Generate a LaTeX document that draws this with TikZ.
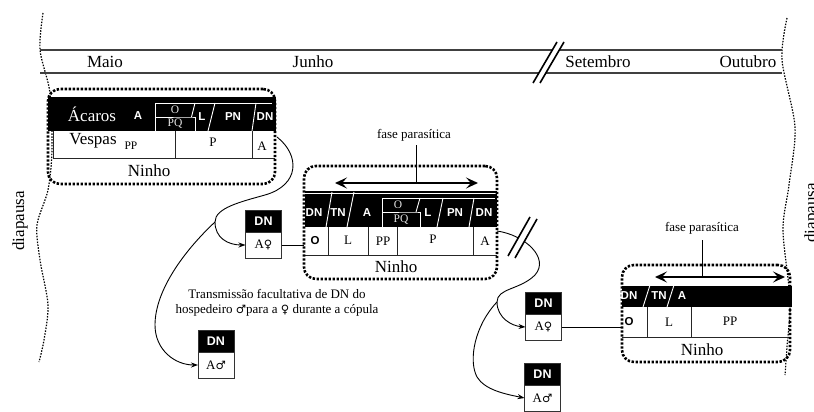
\documentclass[tikz,border=0pt]{standalone}
\usepackage{fontspec}
\setmainfont{Liberation Serif}
\setsansfont{Liberation Sans}
\newfontfamily\symfont{DejaVu Sans}
\usetikzlibrary{arrows.meta,calc}
\tikzset{
 bigtxt/.style={font=\fontsize{17}{19}\selectfont, inner sep=0pt},
 midtxt/.style={font=\fontsize{13}{15}\selectfont, inner sep=0pt},
 smtxt/.style={font=\fontsize{11.5}{12}\selectfont, inner sep=0pt},
 bandtxt/.style={font=\sffamily\bfseries\fontsize{11.5}{12}\selectfont, text=white, inner sep=0pt},
 rowsans/.style={font=\sffamily\bfseries\fontsize{11.5}{12}\selectfont, inner sep=0pt},
 nest/.style={draw, line width=2.6pt, dash pattern=on 2.4pt off 1.6pt, rounded corners=12pt, inner sep=0pt, outer sep=0pt},
 diap/.style={line width=1.2pt, dash pattern=on 1.5pt off 1.4pt},
 cellline/.style={line width=1pt, draw=black!85},
 wline/.style={draw=white, line width=0.9pt},
 tline/.style={line width=1.3pt, draw=black!75},
 conn/.style={line width=0.9pt, -{Stealth[length=7pt,width=5pt]}},
 fasearrow/.style={line width=1.9pt, {Stealth[length=12pt,width=11pt,inset=5pt]}-{Stealth[length=12pt,width=11pt,inset=5pt]}},
 dntop/.style={fill=black, draw=black!80, line width=1pt, minimum width=36pt, minimum height=22pt, inner sep=0pt, outer sep=0pt, text=white, font=\sffamily\bfseries\fontsize{12.5}{13}\selectfont},
 dnbot/.style={fill=white, draw=black!80, line width=1pt, minimum width=36pt, minimum height=26pt, inner sep=0pt, outer sep=0pt, font=\fontsize{13}{15}\selectfont},
}
\begin{document}
\begin{tikzpicture}[x=1pt,y=-1pt]
\useasboundingbox (0,0) rectangle (814,412);
\fill[white] (0,0) rectangle (814,412);

% diapausa boundaries
\draw[diap] plot[smooth] coordinates {(43,13) (40,50) (50,93) (52,150) (48,190) (37,225) (40,260) (48,305) (44,340) (39,362)};
\draw[diap] plot[smooth] coordinates {(787,18) (782,60) (795,127) (789,185) (783,230) (790,300) (787,347) (785,375)};
\node[bigtxt, rotate=90] (dpL) at (20,221) {diapausa};
\node[bigtxt, rotate=90] (dpR) at (812,213) {diapausa};

% timeline
\draw[tline] (40,50) -- (782,50);
\draw[tline] (40,73) -- (782,73);
\draw[white, line width=6pt] (536.5,83) -- (560.5,42);
\draw[line width=1.6pt] (533,83) -- (557,42);
\draw[line width=1.6pt] (540,83) -- (564,42);
\node[bigtxt] (mMaio) at (105,62) {Maio};
\node[bigtxt] (mJun) at (313,62) {Junho};
\node[bigtxt] (mSet) at (598,62) {Setembro};
\node[bigtxt] (mOut) at (748,62) {Outubro};

% ---------- nest 1 ----------
\fill[black] (48,97) rectangle (276,131);
\draw[cellline] (53,131) -- (53,158) -- (275,158);
\draw[cellline] (175,131) -- (175,158);
\draw[cellline] (252,131) -- (252,158);
\draw[wline] (155,103) -- (272,103);
\draw[wline] (155,103) -- (155,131);
\draw[wline] (155,117) -- (191.5,117) -- (195,117) -- (195,131);
\draw[wline] (195,103) -- (191.5,117);
\draw[wline] (215,103) -- (208,131);
\draw[wline] (256,103) -- (252,131);
\node[nest, minimum width=227pt, minimum height=95pt] (n1) at (161.5,136.5) {};
\node[bigtxt, text=white] (t1a) at (92,114) {Ácaros};
\node[bandtxt] (t1b) at (138,116) {A};
\node[smtxt, text=white!90!black] (t1c) at (175,110) {O};
\node[smtxt, text=white!90!black] (t1d) at (175,124) {PQ};
\node[bandtxt] (t1e) at (202,117) {L};
\node[bandtxt] (t1f) at (233,117) {PN};
\node[bandtxt] (t1g) at (265,117) {DN};
\node[bigtxt] (t1h) at (93,141) {Vespas};
\node[smtxt] (t1i) at (131,146) {PP};
\node[midtxt] (t1j) at (213,142) {P};
\node[midtxt] (t1k) at (262,146) {A};
\node[bigtxt] (t1l) at (149,171) {Ninho};

% ---------- nest 2 ----------
\fill[black] (305,191) rectangle (497,227);
\draw[wline, line width=0.6pt] (305,193.6) -- (497,193.6);
\draw[cellline] (305,255) -- (497,255);
\draw[cellline] (328,227) -- (328,255);
\draw[cellline] (368,227) -- (368,255);
\draw[cellline] (397,227) -- (397,255);
\draw[cellline] (473,227) -- (473,255);
\draw[wline] (382,198) -- (495,198);
\draw[wline] (382,198) -- (382,227);
\draw[wline] (382,212) -- (416,212) -- (420,212) -- (420,227);
\draw[wline] (420,198) -- (416,212);
\draw[wline] (332,192) -- (326,227);
\draw[wline] (354,192) -- (347,227);
\draw[wline] (443,198) -- (437,227);
\draw[wline] (474,198) -- (469,227);
\node[nest, minimum width=193pt, minimum height=113pt] (n2) at (400.5,222.5) {};
\node[bandtxt] (t2a) at (314,213) {DN};
\node[bandtxt] (t2b) at (338,213) {TN};
\node[bandtxt] (t2c) at (367,213) {A};
\node[smtxt, text=white!90!black] (t2d) at (398,205) {O};
\node[smtxt, text=white!90!black] (t2e) at (401,220) {PQ};
\node[bandtxt] (t2f) at (428,213) {L};
\node[bandtxt] (t2g) at (455,213) {PN};
\node[bandtxt] (t2h) at (484,213) {DN};
\node[rowsans] (t2i) at (315,241) {O};
\node[midtxt] (t2j) at (348,240) {L};
\node[midtxt] (t2k) at (383,241) {PP};
\node[midtxt] (t2l) at (433,239) {P};
\node[midtxt] (t2m) at (485,241) {A};
\node[bigtxt] (t2n) at (396,267) {Ninho};
\coordinate (f2l) at (335,183);
\coordinate (f2r) at (478,183);
\draw[fasearrow] (f2l) -- (f2r);
\coordinate (f2t) at (416,145);
\draw[line width=1pt] (f2t) -- (f2t |- f2l);
\node[midtxt] (fase2) at (414,135) {fase parasítica};

% ---------- nest 3 ----------
\fill[black] (622,286) rectangle (792,307);
\draw[cellline] (622,337) -- (791,337);
\draw[cellline] (647,307) -- (647,337);
\draw[cellline] (691,307) -- (691,337);
\draw[wline] (650,285) -- (643,307);
\draw[wline] (674,285) -- (667,307);
\node[nest, minimum width=168pt, minimum height=97pt] (n3) at (706,313.5) {};
\node[bandtxt] (t3a) at (629,296) {DN};
\node[bandtxt] (t3b) at (659,296) {TN};
\node[bandtxt] (t3c) at (682,296) {A};
\node[rowsans] (t3d) at (629,322) {O};
\node[midtxt] (t3e) at (669,322) {L};
\node[midtxt] (t3f) at (730,321) {PP};
\node[bigtxt] (t3g) at (702,350) {Ninho};
\coordinate (f3l) at (655,277);
\coordinate (f3r) at (785,277);
\draw[fasearrow] (f3l) -- (f3r);
\coordinate (f3t) at (702,240);
\draw[line width=1pt] (f3t) -- (f3t |- f3l);
\node[midtxt] (fase3) at (702,228) {fase parasítica};

% ---------- small DN boxes ----------
\node[dntop] (fAt) at (263.5,221) {DN};
\node[dnbot] (fA) at (263.5,245) {A{\symfont\fontsize{11.5}{12}\selectfont ♀}};
\node[dntop] (fBt) at (216,341) {DN};
\node[dnbot] (fB) at (216,365) {A{\symfont\fontsize{11.5}{12}\selectfont ♂}};
\node[dntop] (fCt) at (543.5,303) {DN};
\node[dnbot] (fC) at (543.5,327) {A{\symfont\fontsize{11.5}{12}\selectfont ♀}};
\node[dntop] (fDt) at (542.5,374) {DN};
\node[dnbot] (fD) at (542.5,398) {A{\symfont\fontsize{11.5}{12}\selectfont ♂}};

\draw[line width=1pt] (fA.east) -- (fA.east -| n2.west);
\draw[line width=1pt] (fC.east) -- (fC.east -| n3.west);

% ---------- connectors ----------
\coordinate (c1s) at (277,137);
\coordinate (c1m) at (215,222);
\draw[line width=0.9pt] (c1s) .. controls (300,155) and (300,185) .. (265,195) .. controls (240,202) and (215,208) .. (c1m);
\draw[conn] (c1m) .. controls (215,238) and (228,245) .. (fA.west);
\draw[conn] (c1m) .. controls (185,250) and (155,290) .. (155,325) .. controls (155,350) and (175,365) .. (fB.west);

\coordinate (c2s) at (497,231);
\coordinate (c2m) at (497,302);
\draw[line width=0.9pt] (c2s) .. controls (525,235) and (550,258) .. (535,275) .. controls (520,290) and (497,288) .. (c2m);
\draw[conn] (c2m) .. controls (497,318) and (512,326) .. (fC.west);
\draw[conn] (c2m) .. controls (475,325) and (468,360) .. (477,377) .. controls (485,390) and (505,394) .. (fD.west);
\draw[white, line width=6pt] (511.5,257) -- (533.5,218);
\draw[line width=1.6pt] (508,256) -- (530,217);
\draw[line width=1.6pt] (515,258) -- (537,219);

\node[midtxt, align=center] (trans) at (277,302.5) {Transmissão facultativa de DN do\\hospedeiro {\symfont\fontsize{11.5}{12}\selectfont ♂}para a {\symfont\fontsize{11.5}{12}\selectfont ♀} durante a cópula};
\end{tikzpicture}
\end{document}
